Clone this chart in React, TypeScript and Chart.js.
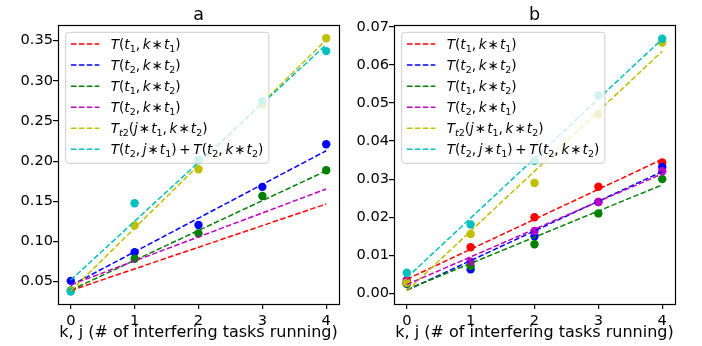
import React, { useEffect, useRef } from 'react';
import { Chart, registerables } from 'chart.js';

Chart.register(...registerables);

const FONT = '"DejaVu Sans", sans-serif';

// ---------- shared ----------
const xValues = [0, 1, 2, 3, 4];
const xTicks = [0, 1, 2, 3, 4];
const xMin = -0.2;
const xMax = 4.2;
const xLabel = 'k, j (# of interfering tasks running)';
const seriesColors = ['#ff0000', '#0000ff', '#008000', '#bf00bf', '#bfbf00', '#00bfbf'];

type Seg = [string, 'i' | 'r' | 's' | 'si' | 'g' | 'op'];
const C = '0.2'; // space after comma (em)
const O = '0.24'; // space around binary operators (em)
const P = '0.2'; // space around plus (em)
const legendLabels: Seg[][] = [
  [['T', 'i'], ['(', 'r'], ['t', 'i'], ['1', 's'], [',', 'r'], [C, 'g'], ['k', 'i'], [O, 'g'], ['\u2217', 'op'], [O, 'g'], ['t', 'i'], ['1', 's'], [')', 'r']],
  [['T', 'i'], ['(', 'r'], ['t', 'i'], ['2', 's'], [',', 'r'], [C, 'g'], ['k', 'i'], [O, 'g'], ['\u2217', 'op'], [O, 'g'], ['t', 'i'], ['2', 's'], [')', 'r']],
  [['T', 'i'], ['(', 'r'], ['t', 'i'], ['1', 's'], [',', 'r'], [C, 'g'], ['k', 'i'], [O, 'g'], ['\u2217', 'op'], [O, 'g'], ['t', 'i'], ['2', 's'], [')', 'r']],
  [['T', 'i'], ['(', 'r'], ['t', 'i'], ['2', 's'], [',', 'r'], [C, 'g'], ['k', 'i'], [O, 'g'], ['\u2217', 'op'], [O, 'g'], ['t', 'i'], ['1', 's'], [')', 'r']],
  [['T', 'i'], ['t', 'si'], ['2', 's'], ['(', 'r'], ['j', 'i'], [O, 'g'], ['\u2217', 'op'], [O, 'g'], ['t', 'i'], ['1', 's'], [',', 'r'], [C, 'g'], ['k', 'i'], [O, 'g'], ['\u2217', 'op'], [O, 'g'], ['t', 'i'], ['2', 's'], [')', 'r']],
  [['T', 'i'], ['(', 'r'], ['t', 'i'], ['2', 's'], [',', 'r'], [C, 'g'], ['j', 'i'], [O, 'g'], ['\u2217', 'op'], [O, 'g'], ['t', 'i'], ['1', 's'], [')', 'r'], [P, 'g'], ['+', 'op'], [P, 'g'], ['T', 'i'], ['(', 'r'], ['t', 'i'], ['2', 's'], [',', 'r'], [C, 'g'], ['k', 'i'], [O, 'g'], ['\u2217', 'op'], [O, 'g'], ['t', 'i'], ['2', 's'], [')', 'r']],
];

// ---------- panel a ----------
const aTitle = 'a';
const aRed: number[] = [];
const aBlue = [0.051, 0.0866, 0.1206, 0.168, 0.221];
const aGreen = [0.039, 0.0786, 0.110, 0.1567, 0.1887];
const aMagenta: number[] = [];
const aYellow = [0.0385, 0.120, 0.190, 0.2708, 0.353];
const aCyan = [0.0376, 0.1476, 0.2015, 0.275, 0.337];
const aFitStart = [0.039, 0.0452, 0.0395, 0.0460, 0.0385, 0.052];
const aFitEnd = [0.1467, 0.2130, 0.1880, 0.1654, 0.3510, 0.3450];
const aYTicks = [0.05, 0.1, 0.15, 0.2, 0.25, 0.3, 0.35];
const aYMin = 0.0222;
const aYMax = 0.3695;

// ---------- panel b ----------
const bTitle = 'b';
const bRed = [0.003, 0.0121, 0.020, 0.028, 0.0344];
const bBlue = [0.0025, 0.0063, 0.015, 0.024, 0.0332];
const bGreen = [0.0026, 0.0072, 0.0129, 0.021, 0.030];
const bMagenta = [0.0035, 0.0083, 0.0164, 0.024, 0.0321];
const bYellow = [0.0028, 0.0156, 0.029, 0.047, 0.0659];
const bCyan = [0.0054, 0.0181, 0.0348, 0.052, 0.0669];
const bFitStart = [0.0037, 0.0008, 0.0010, 0.0023, 0.0006, 0.0041];
const bFitEnd = [0.0352, 0.0320, 0.0285, 0.0314, 0.0636, 0.0668];
const bYTicks = [0, 0.01, 0.02, 0.03, 0.04, 0.05, 0.06, 0.07];
const bYMin = -0.0028;
const bYMax = 0.0705;

type PanelProps = {
  title: string;
  series: number[][];
  fitStart: number[];
  fitEnd: number[];
  yTicks: number[];
  yMin: number;
  yMax: number;
  left: number;
  axisWidth: number;
  padRight: number;
};

const TICK_FS = 14.6;
const LEG_FS = 13.6;
const DASH = [5.5, 2.4];

function drawRich(ctx: CanvasRenderingContext2D, segs: Seg[], x: number, y: number, fs: number, measureOnly = false): number {
  let cx = x;
  for (const [t, s] of segs) {
    if (s === 'g') {
      cx += parseFloat(t) * fs;
      continue;
    }
    const sub = s === 's' || s === 'si';
    const size = sub ? fs * 0.7 : fs;
    const italic = s === 'i' || s === 'si';
    ctx.font = `${italic ? 'italic ' : ''}${size}px ${FONT}`;
    const dy = sub ? fs * 0.22 : 0;
    const w = ctx.measureText(t).width;
    if (s === 'op') {
      const slot = t === '+' ? 0.838 * fs : 0.5 * fs;
      if (!measureOnly) ctx.fillText(t, cx + (slot - w) / 2, y);
      cx += slot;
      continue;
    }
    if (!measureOnly) ctx.fillText(t, cx, y + dy);
    cx += w;
  }
  return cx - x;
}

function Panel(p: PanelProps) {
  const ref = useRef<HTMLCanvasElement>(null);
  useEffect(() => {
    const pointSets = p.series.map((vals, i) => ({
      data: vals.map((v, k) => ({ x: xValues[k], y: v })),
      showLine: false,
      pointRadius: 4.2,
      pointBackgroundColor: seriesColors[i],
      pointBorderWidth: 0,
      order: 20 - i,
    }));
    const lineSets = p.fitStart.map((v, i) => ({
      data: [
        { x: xValues[0], y: v },
        { x: xValues[xValues.length - 1], y: p.fitEnd[i] },
      ],
      showLine: true,
      pointRadius: 0,
      borderColor: seriesColors[i],
      borderWidth: 1.5,
      borderDash: DASH,
      fill: false,
      order: 10 - i,
    }));

    const overlay = {
      id: 'overlay',
      afterDatasetsDraw(chart: any) {
        const ctx: CanvasRenderingContext2D = chart.ctx;
        const ca = chart.chartArea;
        ctx.save();
        // spines
        ctx.strokeStyle = '#000';
        ctx.lineWidth = 1.2;
        ctx.strokeRect(Math.round(ca.left) + 0.5, Math.round(ca.top) + 0.5, Math.round(ca.right - ca.left), Math.round(ca.bottom - ca.top));
        // title
        ctx.fillStyle = '#000';
        ctx.font = `17.5px ${FONT}`;
        ctx.textAlign = 'center';
        ctx.textBaseline = 'alphabetic';
        ctx.fillText(p.title, (ca.left + ca.right) / 2, ca.top - 5);
        // legend
        ctx.textAlign = 'left';
        const fs = LEG_FS;
        let maxW = 0;
        legendLabels.forEach((l) => {
          maxW = Math.max(maxW, drawRich(ctx, l, 0, 0, fs, true));
        });
        const bx = ca.left + 7.7;
        const by = ca.top + 7.3;
        const textOff = 45;
        const bw = textOff + maxW + 5.6;
        const rowH = 21.07;
        const bh = 131;
        const r = 3;
        ctx.beginPath();
        ctx.moveTo(bx + r, by);
        ctx.lineTo(bx + bw - r, by);
        ctx.arcTo(bx + bw, by, bx + bw, by + r, r);
        ctx.lineTo(bx + bw, by + bh - r);
        ctx.arcTo(bx + bw, by + bh, bx + bw - r, by + bh, r);
        ctx.lineTo(bx + r, by + bh);
        ctx.arcTo(bx, by + bh, bx, by + bh - r, r);
        ctx.lineTo(bx, by + r);
        ctx.arcTo(bx, by, bx + r, by, r);
        ctx.closePath();
        ctx.fillStyle = 'rgba(255,255,255,0.8)';
        ctx.fill();
        ctx.strokeStyle = '#cccccc';
        ctx.lineWidth = 1;
        ctx.stroke();
        legendLabels.forEach((l, i) => {
          const cy = by + 11.7 + i * rowH;
          ctx.strokeStyle = seriesColors[i];
          ctx.lineWidth = 1.5;
          ctx.setLineDash(DASH);
          ctx.beginPath();
          ctx.moveTo(bx + 5.3, cy);
          ctx.lineTo(bx + 33.6, cy);
          ctx.stroke();
          ctx.setLineDash([]);
          ctx.fillStyle = '#000';
          drawRich(ctx, l, bx + textOff, cy + 5, fs);
        });
        ctx.restore();
      },
    };

    const chart = new Chart(ref.current as HTMLCanvasElement, {
      type: 'scatter',
      data: { datasets: [...pointSets, ...lineSets] as any },
      options: {
        animation: false,
        responsive: false,
        events: [],
        layout: { padding: { left: 0, right: p.padRight, top: 25, bottom: 0 } },
        plugins: {
          legend: { display: false },
          tooltip: { enabled: false },
          title: { display: false },
        },
        scales: {
          x: {
            type: 'linear',
            min: xMin,
            max: xMax,
            afterBuildTicks: (s: any) => {
              s.ticks = xTicks.map((v) => ({ value: v }));
            },
            afterFit: (s: any) => {
              s.height = 42;
            },
            grid: { display: true, drawOnChartArea: false, drawTicks: true, tickLength: 5, color: '#000', lineWidth: 1.2 },
            border: { display: false },
            ticks: {
              autoSkip: false,
              maxRotation: 0,
              padding: 3,
              color: '#000',
              font: { family: FONT, size: TICK_FS },
              callback: (v: any) => String(v),
            },
            title: {
              display: true,
              text: xLabel,
              color: '#000',
              font: { family: FONT, size: 16 },
              padding: { top: 0, bottom: 4 },
            },
          },
          y: {
            type: 'linear',
            min: p.yMin,
            max: p.yMax,
            afterBuildTicks: (s: any) => {
              s.ticks = p.yTicks.map((v) => ({ value: v }));
            },
            afterFit: (s: any) => {
              s.width = p.axisWidth;
            },
            grid: { display: true, drawOnChartArea: false, drawTicks: true, tickLength: 5, color: '#000', lineWidth: 1.2 },
            border: { display: false },
            ticks: {
              autoSkip: false,
              padding: 0,
              color: '#000',
              font: { family: FONT, size: TICK_FS },
              callback: (v: any) => Number(v).toFixed(2),
            },
          },
        },
      } as any,
      plugins: [overlay],
    });
    return () => chart.destroy();
  }, []);
  return (
    <canvas
      ref={ref}
      width={351}
      height={346}
      style={{ position: 'absolute', left: p.left, top: 0, width: 351, height: 346 }}
    />
  );
}

export default function App() {
  return (
    <div style={{ position: 'absolute', left: 0, top: 0, width: 702, height: 346, background: '#fff', overflow: 'hidden' }}>
      <Panel
        title={aTitle}
        series={[aRed, aBlue, aGreen, aMagenta, aYellow, aCyan]}
        fitStart={aFitStart}
        fitEnd={aFitEnd}
        yTicks={aYTicks}
        yMin={aYMin}
        yMax={aYMax}
        left={0}
        axisWidth={58}
        padRight={12}
      />
      <Panel
        title={bTitle}
        series={[bRed, bBlue, bGreen, bMagenta, bYellow, bCyan]}
        fitStart={bFitStart}
        fitEnd={bFitEnd}
        yTicks={bYTicks}
        yMin={bYMin}
        yMax={bYMax}
        left={351}
        axisWidth={43}
        padRight={27}
      />
    </div>
  );
}
